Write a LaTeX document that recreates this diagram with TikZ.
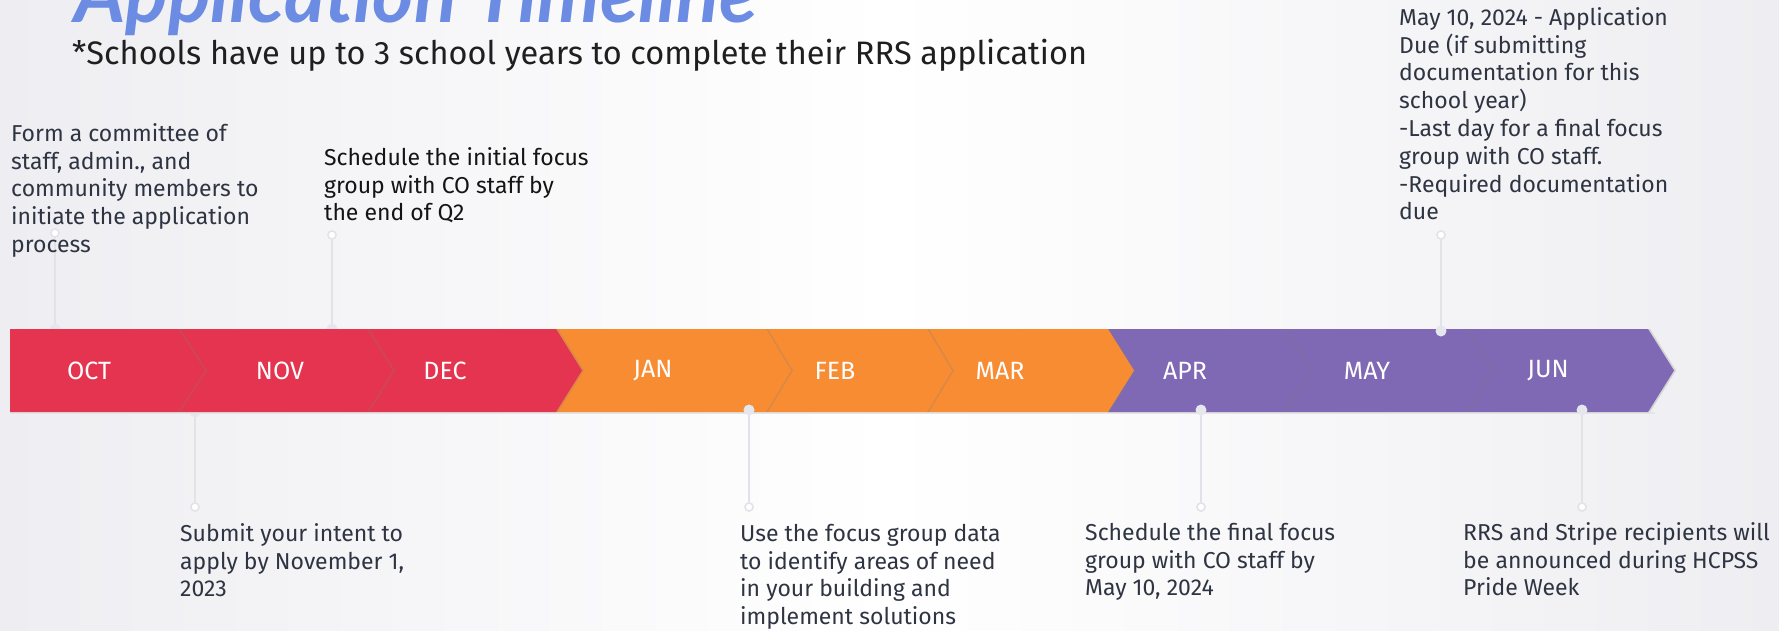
\documentclass[tikz,border=0pt]{standalone}
\usepackage{fontspec}
\setmainfont{Fira Sans}
\newfontfamily\titlefont{Lato}
\usetikzlibrary{shadows}
\definecolor{octred}{HTML}{E5344F}
\definecolor{janorange}{HTML}{F78C33}
\definecolor{aprpurple}{HTML}{7F68B4}
\definecolor{ink}{HTML}{2E3442}
\definecolor{stemgray}{HTML}{E2E2E9}
\definecolor{dotgray}{HTML}{E6E6EE}
\definecolor{titleblue}{HTML}{6B8CE2}
\definecolor{edgegray}{HTML}{EEEEF2}
\newcommand\firstln{\rule{0pt}{20pt}}
\begin{document}
\begin{tikzpicture}[x=1pt,y=-1pt,
  month/.style={text=white, font=\fontsize{25}{30}\selectfont, inner sep=0pt},
  note/.style={anchor=north west, inner sep=0pt, align=left, text=ink,
    font=\fontsize{23}{27.8}\selectfont},
  stem/.style={draw=stemgray, line width=2pt},
  ring/.style={draw=stemgray, line width=1.4pt, fill=white, circle,
    minimum size=8pt, inner sep=0pt},
  dot/.style={fill=dotgray, circle, minimum size=11pt, inner sep=0pt},
  seg/.style={drop shadow={shadow xshift=2pt, shadow yshift=0pt, opacity=0.25}},
]
\clip (0,0) rectangle (1779,630);
% page background: light grey at the sides, white in the middle
\shade[left color=edgegray, right color=edgegray, middle color=white]
  (0,0) rectangle (1779,630);

% headings
\node[anchor=base west, inner sep=0pt, text=titleblue,
  font=\fontsize{79}{84}\selectfont\titlefont\bfseries\itshape]
  (title) at (74,22) {Application Timeline};
\node[anchor=base west, inner sep=0pt, text=black!88,
  font=\fontsize{32.5}{38}\selectfont]
  (subtitle) at (72,64) {*Schools have up to 3 school years to complete their RRS application};

% connector end points
\node[ring] (r1) at (55,233) {};
\node[ring] (r2) at (332,235) {};
\node[ring] (r3) at (1441,235) {};
\node[ring] (r4) at (195,507) {};
\node[ring] (r5) at (749,507) {};
\node[ring] (r6) at (1201,507) {};
\node[ring] (r7) at (1582,507) {};
\coordinate (d1) at (55,329);
\coordinate (d2) at (332,329);
\coordinate (d3) at (1441,331);
\coordinate (d4) at (195,412);
\coordinate (d5) at (749,410);
\coordinate (d6) at (1201,410);
\coordinate (d7) at (1582,410);
\foreach \i in {1,...,7} {\draw[stem] (r\i) -- (d\i);}
\foreach \i in {1,2,4} {\node[dot] at (d\i) {};}
\foreach \i in {1,...,7} {\node[ring] at (r\i) {};}

% faint line under the bar
\draw[black!10, line width=1.5pt] (10,413) -- (1655,413);

% chevron bar, drawn right to left so each tip overlaps the next segment
\foreach \s/\b/\t/\c in {1466/1648/1674/aprpurple, 1284/1466/1492/aprpurple,
    1108/1284/1311/aprpurple, 927/1108/1134/janorange, 766/927/952/janorange,
    556/766/791/janorange, 367/556/582/octred, 178/367/393/octred,
    10/178/205/octred} {
  \fill[\c, seg] (\s,329) -- (\b,329) -- (\t,370.5) -- (\b,412) -- (\s,412) -- cycle;
}

\foreach \i in {3,5,6,7} {\node[dot] at (d\i) {};}

% month labels
\node[month] (oct) at (89,371) {OCT};
\node[month] (nov) at (280,371) {NOV};
\node[month] (dec) at (445,371) {DEC};
\node[month] (jan) at (653,371) {JAN};
\node[month] (feb) at (835,371) {FEB};
\node[month] (mar) at (1000,371) {MAR};
\node[month] (apr) at (1185,371) {APR};
\node[month] (may) at (1367,371) {MAY};
\node[month] (jun) at (1548,371) {JUN};

% milestone notes
\node[note] (n1) at (11,121) {\firstln Form a committee of\\staff, admin., and\\community members to\\initiate the application\\process};
\node[note, text=black!92] (n2) at (324,145) {\firstln Schedule the initial focus\\group with CO staff by\\the end of Q2};
\node[note] (n3) at (1399,5) {\firstln May 10, 2024 - Application\\Due (if submitting\\documentation for this\\school year)\\-Last day for a final focus\\group with CO staff.\\-Required documentation\\due};
\node[note] (n4) at (180,521) {\firstln Submit your intent to\\apply by November 1,\\2023};
\node[note] (n5) at (740,521) {\firstln Use the focus group data\\to identify areas of need\\in your building and\\implement solutions};
\node[note] (n6) at (1085,520) {\firstln Schedule the final focus\\group with CO staff by\\May 10, 2024};
\node[note] (n7) at (1463,520) {\firstln RRS and Stripe recipients will\\be announced during HCPSS\\Pride Week};
\end{tikzpicture}
\end{document}
